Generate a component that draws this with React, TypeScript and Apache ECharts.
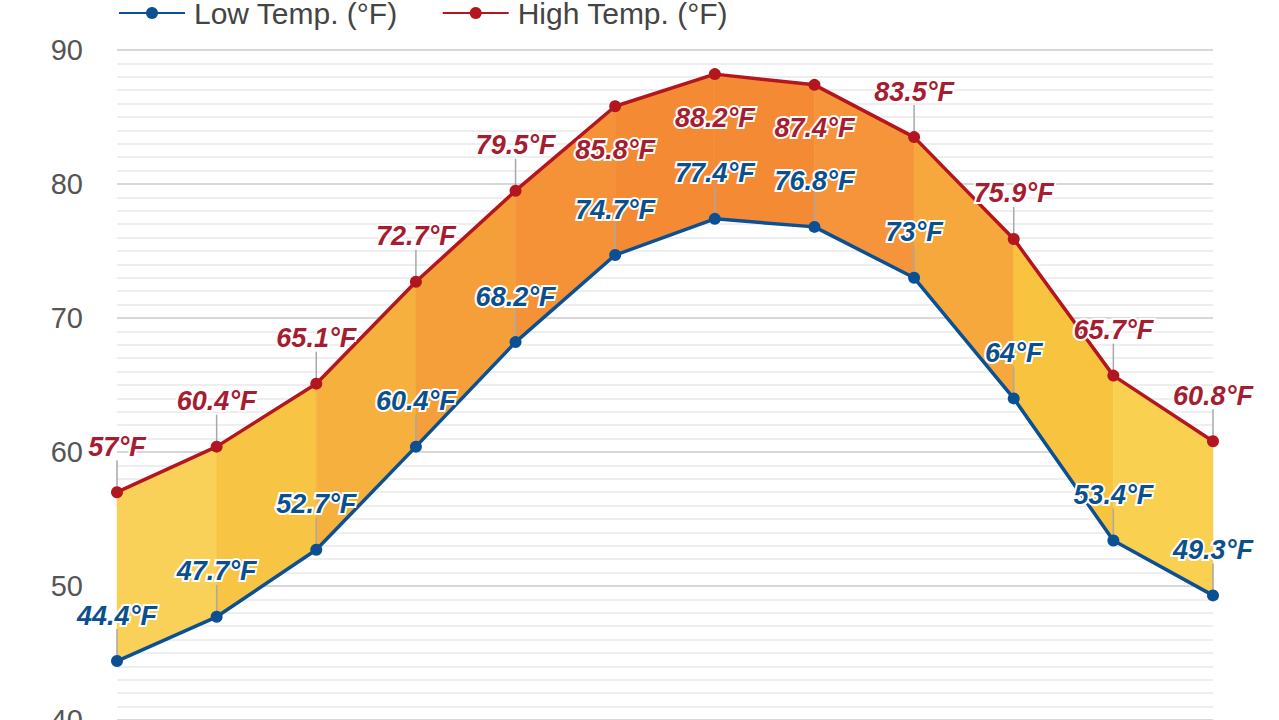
import React, { useEffect, useRef } from "react";
import * as echarts from "echarts";

const months = ["Jan", "Feb", "Mar", "Apr", "May", "Jun", "Jul", "Aug", "Sep", "Oct", "Nov", "Dec"];
const lowTemps = [44.4, 47.7, 52.7, 60.4, 68.2, 74.7, 77.4, 76.8, 73, 64, 53.4, 49.3];
const highTemps = [57, 60.4, 65.1, 72.7, 79.5, 85.8, 88.2, 87.4, 83.5, 75.9, 65.7, 60.8];
const highLabelsBelow = [5, 6, 7];
const yMin = 40;
const yMax = 90;
const yInterval = 10;

const segmentColors = [
  "#F9D158", "#F8C443", "#F6B03D", "#F59F3A", "#F59238", "#F58A35",
  "#F58A35", "#F5943A", "#F6A83D", "#F8C440", "#F9D050",
];

const LOW_COLOR = "#0B5092";
const HIGH_COLOR = "#B3161F";
const LOW_LABEL = "#0B4F8C";
const HIGH_LABEL = "#A61C30";
const FONT = "Liberation Sans, Arial, sans-serif";

export default function App() {
  const ref = useRef<HTMLDivElement>(null);

  useEffect(() => {
    document.body.style.margin = "0";
    const chart = echarts.init(ref.current!, null, { renderer: "svg" });

    const segData = months.slice(0, -1).map((_, i) => [
      i, highTemps[i], lowTemps[i], highTemps[i + 1], lowTemps[i + 1],
    ]);
    const leaderData = months.map((_, i) => [i, highTemps[i], lowTemps[i]]);

    const labelBase = {
      show: true,
      position: "top",
      distance: 26,
      fontSize: 27,
      fontWeight: "bold",
      fontStyle: "italic",
      fontFamily: FONT,
      textBorderColor: "#fff",
      textBorderWidth: 4,
      formatter: (p: any) => p.value + "°F",
    };

    chart.setOption({
      animation: false,
      backgroundColor: "#fff",
      legend: {
        data: ["Low Temp. (°F)", "High Temp. (°F)"],
        left: 113,
        top: -7,
        itemWidth: 66,
        itemHeight: 15,
        itemGap: 44,
        textStyle: {
          fontSize: 30,
          color: "#444",
          fontFamily: FONT,
          padding: [0, 0, 0, 4],
        },
      },
      grid: { left: 117, right: 66, top: 50, bottom: 60, containLabel: false },
      xAxis: {
        type: "category",
        data: months,
        boundaryGap: false,
        axisLine: { show: false },
        axisTick: { show: false },
        axisLabel: { show: false },
        splitLine: { show: false },
      },
      yAxis: {
        type: "value",
        min: yMin,
        max: yMax,
        interval: yInterval,
        axisLine: { show: false },
        axisTick: { show: false },
        axisLabel: {
          fontSize: 29,
          color: "#555",
          margin: 34,
          fontFamily: FONT,
        },
        splitLine: { show: true, lineStyle: { color: "#d8d8d8", width: 2 } },
        minorTick: { show: false, splitNumber: 10 },
        minorSplitLine: { show: true, lineStyle: { color: "#e8e8e8", width: 1.5 } },
      },
      series: [
        {
          type: "custom",
          z: 1,
          silent: true,
          data: segData,
          encode: { x: 0, y: [1, 2, 3, 4] },
          renderItem: (params: any, api: any) => {
            const i = api.value(0);
            const p1 = api.coord([i, api.value(1)]);
            const p2 = api.coord([i + 1, api.value(3)]);
            const p3 = api.coord([i + 1, api.value(4)]);
            const p4 = api.coord([i, api.value(2)]);
            return {
              type: "polygon",
              shape: { points: [p1, p2, p3, p4] },
              style: { fill: segmentColors[params.dataIndex], stroke: segmentColors[params.dataIndex], lineWidth: 0.5 },
            };
          },
        },
        {
          type: "custom",
          z: 2,
          silent: true,
          data: leaderData,
          encode: { x: 0, y: [1, 2] },
          renderItem: (params: any, api: any) => {
            const i = api.value(0);
            const ph = api.coord([i, api.value(1)]);
            const pl = api.coord([i, api.value(2)]);
            const children: any[] = [];
            const st = { stroke: "#a8a8a8", lineWidth: 1.5 };
            if (highLabelsBelow.indexOf(params.dataIndex) < 0) {
              children.push({ type: "line", shape: { x1: ph[0], y1: ph[1] - 32, x2: ph[0], y2: ph[1] }, style: st });
            }
            children.push({ type: "line", shape: { x1: pl[0], y1: pl[1] - 32, x2: pl[0], y2: pl[1] }, style: st });
            return { type: "group", children };
          },
        },
        {
          name: "Low Temp. (°F)",
          type: "line",
          z: 3,
          data: lowTemps,
          symbol: "circle",
          symbolSize: 12,
          itemStyle: { color: LOW_COLOR },
          lineStyle: { color: LOW_COLOR, width: 3.5 },
          label: { ...labelBase, color: LOW_LABEL },
        },
        {
          name: "High Temp. (°F)",
          type: "line",
          z: 3,
          data: highTemps.map((v, i) =>
            highLabelsBelow.indexOf(i) >= 0 ? { value: v, label: { position: "bottom", distance: 24 } } : v
          ),
          symbol: "circle",
          symbolSize: 12,
          itemStyle: { color: HIGH_COLOR },
          lineStyle: { color: HIGH_COLOR, width: 3.5 },
          label: { ...labelBase, color: HIGH_LABEL },
        },
      ],
    });

    return () => chart.dispose();
  }, []);

  return <div ref={ref} style={{ width: 1279, height: 780 }} />;
}
